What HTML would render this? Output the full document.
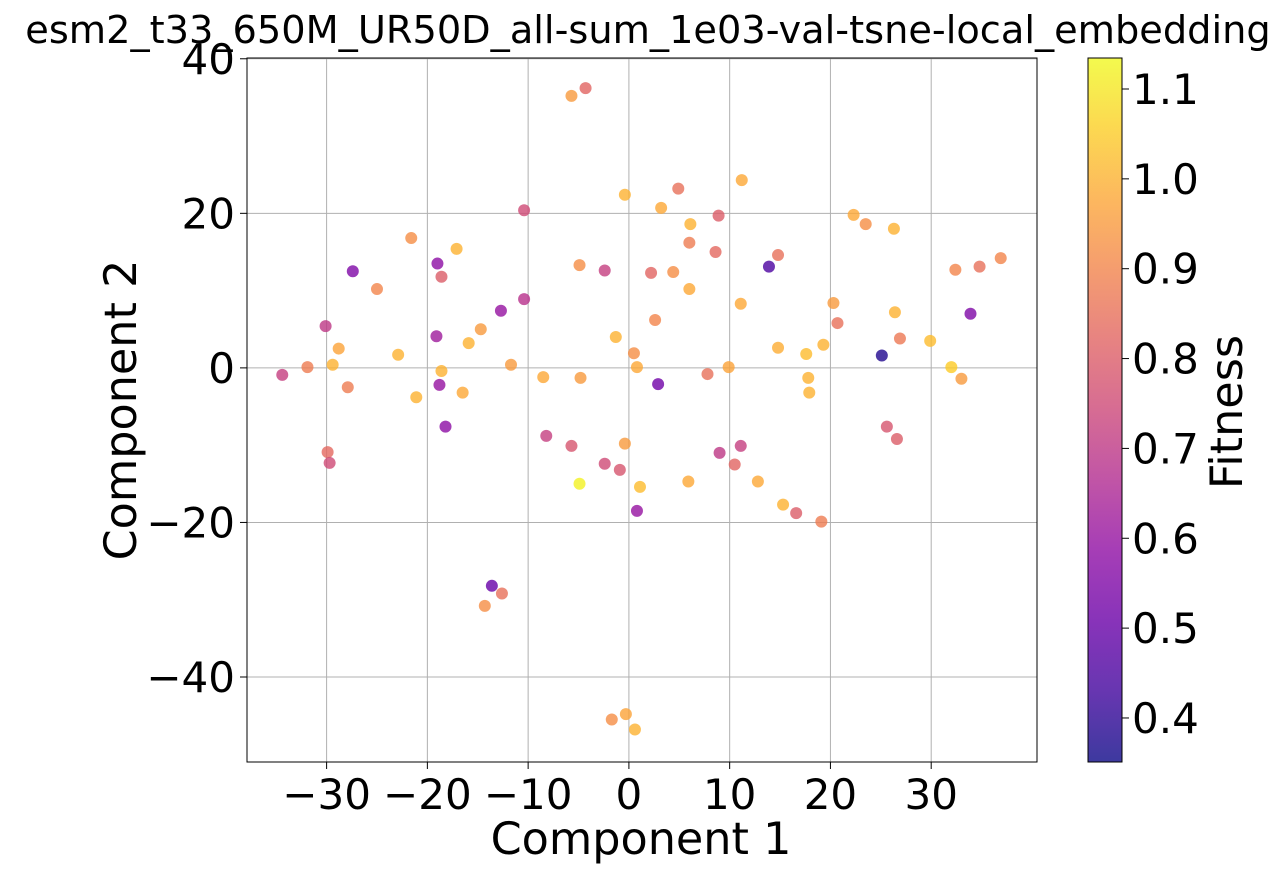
<!DOCTYPE html>
<html><head><meta charset="utf-8"><style>
body{margin:0;background:#fff;}
svg text{font-family:"DejaVu Sans","Liberation Sans",sans-serif;fill:#000;}
</style></head><body>
<svg id="chart" width="1283" height="872" xmlns="http://www.w3.org/2000/svg">
<defs>
<linearGradient id="cbgrad" x1="0" y1="1" x2="0" y2="0">
<stop offset="0" stop-color="#0d0887"/><stop offset="0.1" stop-color="#41049d"/><stop offset="0.2" stop-color="#6a00a8"/><stop offset="0.3" stop-color="#8f0da4"/><stop offset="0.4" stop-color="#b12a90"/><stop offset="0.5" stop-color="#cc4778"/><stop offset="0.6" stop-color="#e16462"/><stop offset="0.7" stop-color="#f2844b"/><stop offset="0.8" stop-color="#fca636"/><stop offset="0.9" stop-color="#fcce25"/><stop offset="1" stop-color="#f0f921"/>
</linearGradient>
</defs>
<text x="648" y="43" font-size="38.3" text-anchor="middle">esm2_t33_650M_UR50D_all-sum_1e03-val-tsne-local_embedding</text>
<g id="grid"></g>
<g id="pts"></g>
<rect x="247" y="58" width="790" height="704" fill="none" stroke="#000" stroke-width="1"/>
<g id="xt"></g><g id="yt"></g>
<text x="641" y="854" font-size="44.5" text-anchor="middle">Component 1</text>
<text transform="translate(136,410) rotate(-90)" font-size="44.5" text-anchor="middle">Component 2</text>
<rect x="1088" y="58" width="34" height="704" fill="url(#cbgrad)" fill-opacity="0.8"/>
<rect x="1088" y="58" width="34" height="704" fill="none" stroke="#000" stroke-width="1"/>
<g id="ct"></g>
<text transform="translate(1242,412) rotate(-90)" font-size="44.5" text-anchor="middle">Fitness</text>
</svg>
<script>
const xs=[-5.7,-4.3,-0.4,3.2,4.9,11.2,-10.4,6.1,8.9,6.0,8.6,14.8,13.9,22.3,23.5,26.3,-21.6,-17.1,-27.4,-25.0,-19.0,-18.6,-4.9,-2.4,2.2,4.4,6.0,11.1,-10.4,-12.7,-14.7,-19.1,-15.9,-30.1,-28.8,-22.9,-34.4,-31.9,-29.4,-27.9,-21.1,-18.6,-18.8,-16.5,-18.2,-11.7,-8.5,-4.8,-1.3,0.5,0.8,2.6,2.9,7.8,9.9,14.8,17.6,17.8,17.9,19.3,20.3,20.7,26.4,26.9,25.1,29.9,32.4,34.8,36.9,33.9,32.0,33.0,25.6,26.6,-29.9,-29.7,-8.2,-5.7,-0.4,-2.4,-0.9,-4.9,1.1,0.8,5.9,9.0,11.1,10.5,12.8,15.3,16.6,19.1,-13.6,-12.6,-14.3,-1.7,-0.3,0.6];
const ys=[35.2,36.2,22.4,20.7,23.2,24.3,20.4,18.6,19.7,16.2,15.0,14.6,13.1,19.8,18.6,18.0,16.8,15.4,12.5,10.2,13.5,11.8,13.3,12.6,12.3,12.4,10.2,8.3,8.9,7.4,5.0,4.1,3.2,5.4,2.5,1.7,-0.9,0.1,0.4,-2.5,-3.8,-0.4,-2.2,-3.2,-7.6,0.4,-1.2,-1.3,4.0,1.9,0.1,6.2,-2.1,-0.8,0.1,2.6,1.8,-1.3,-3.2,3.0,8.4,5.8,7.2,3.8,1.6,3.5,12.7,13.1,14.2,7.0,0.1,-1.4,-7.6,-9.2,-10.9,-12.3,-8.8,-10.1,-9.8,-12.4,-13.2,-15.0,-15.4,-18.5,-14.7,-11.0,-10.1,-12.5,-14.7,-17.7,-18.8,-19.9,-28.2,-29.2,-30.8,-45.5,-44.8,-46.8];
const fit=[0.95,0.82,1.0,0.98,0.85,0.98,0.75,1.0,0.8,0.88,0.83,0.85,0.45,0.98,0.92,1.0,0.92,1.0,0.55,0.9,0.58,0.8,0.92,0.72,0.82,0.92,0.98,0.98,0.68,0.6,0.95,0.62,1.0,0.7,0.97,1.0,0.72,0.88,1.0,0.88,1.0,1.0,0.6,0.98,0.58,0.95,0.98,0.95,1.0,0.92,0.98,0.9,0.52,0.85,0.97,0.99,1.02,1.0,1.0,1.0,0.95,0.85,1.0,0.87,0.38,1.02,0.9,0.85,0.9,0.55,1.05,0.95,0.78,0.8,0.83,0.75,0.72,0.78,0.95,0.75,0.78,1.12,1.02,0.6,0.98,0.7,0.72,0.82,0.98,1.0,0.8,0.88,0.5,0.85,0.92,0.92,0.97,1.0];
const xTicks=[-30,-20,-10,0,10,20,30];
const yTicks=[-40,-20,0,20,40];
const cTicks=[0.4,0.5,0.6,0.7,0.8,0.9,1.0,1.1];
const NS="http://www.w3.org/2000/svg";
const X0=247,X1=1037,Y0=58,Y1=762,xmin=-37.9,xmax=40.5,ymin=-51.0,ymax=40.1,vmin=0.351,vmax=1.1345;
const sx=v=>X0+(v-xmin)/(xmax-xmin)*(X1-X0);
const sy=v=>Y1-(v-ymin)/(ymax-ymin)*(Y1-Y0);
const sc=v=>Y1-(v-vmin)/(vmax-vmin)*(Y1-Y0);
const stops=["#0d0887","#41049d","#6a00a8","#8f0da4","#b12a90","#cc4778","#e16462","#f2844b","#fca636","#fcce25","#f0f921"].map(h=>[1,3,5].map(i=>parseInt(h.substr(i,2),16)));
function cmap(v){let t=Math.max(0,Math.min(1,(v-vmin)/(vmax-vmin)))*10;let i=Math.min(9,Math.floor(t)),f=t-i;const c=stops[i].map((a,k)=>Math.round(a+(stops[i+1][k]-a)*f));return `rgb(${c})`;}
function mk(tag,attrs,parent){const e=document.createElementNS(NS,tag);for(const k in attrs)e.setAttribute(k,attrs[k]);document.getElementById(parent).appendChild(e);return e;}
const fmt=v=>(v<0?"\u2212":"")+Math.abs(v);
xTicks.forEach(t=>{const x=sx(t);
const g=mk("line",{x1:x,x2:x,y1:Y0,y2:Y1,stroke:"#b0b0b0","stroke-width":1},"grid");


const tk=mk("line",{x1:x,x2:x,y1:Y1,y2:Y1+7,stroke:"#000"},"xt");


const l=mk("text",{x:x,y:Y1+47,"font-size":42,"text-anchor":"middle"},"xt");l.textContent=fmt(t);

});
yTicks.forEach(t=>{const y=sy(t);
const g=mk("line",{x1:X0,x2:X1,y1:y,y2:y,stroke:"#b0b0b0","stroke-width":1},"grid");


const tk=mk("line",{x1:X0-7,x2:X0,y1:y,y2:y,stroke:"#000"},"yt");


const l=mk("text",{x:X0-12,y:y+15,"font-size":42,"text-anchor":"end"},"yt");l.textContent=fmt(t);

});
cTicks.forEach(t=>{const y=sc(t);
const tk=mk("line",{x1:1122,x2:1129,y1:y,y2:y,stroke:"#000"},"ct");


const l=mk("text",{x:1132,y:y+15,"font-size":42},"ct");l.textContent=t.toFixed(1);

});
xs.forEach((v,i)=>{const c=mk("circle",{cx:sx(v),cy:sy(ys[i]),r:6,fill:cmap(fit[i]),"fill-opacity":0.8},"pts");

});
</script>
</body></html>
